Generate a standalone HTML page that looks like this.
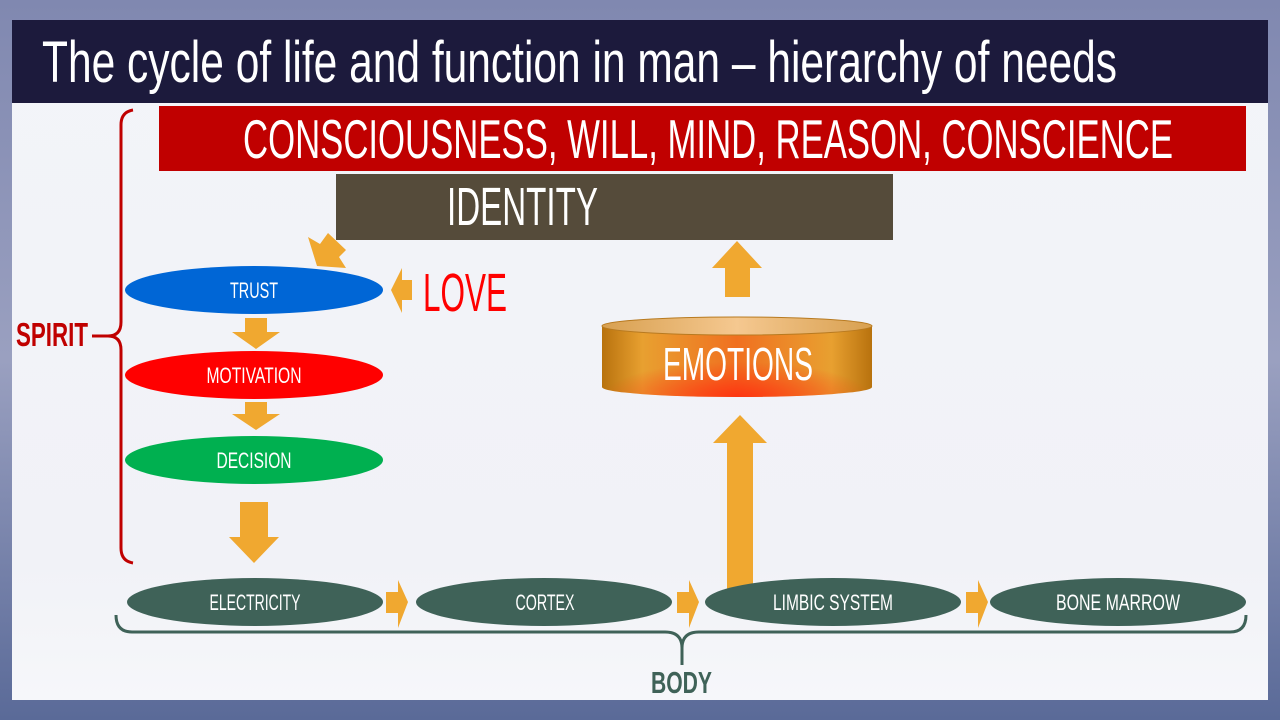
<!DOCTYPE html>
<html><head><meta charset="utf-8"><style>html,body{margin:0;padding:0;width:1280px;height:720px;overflow:hidden}</style></head>
<body>
<svg width="1280" height="720" viewBox="0 0 1280 720" xmlns="http://www.w3.org/2000/svg" font-family="Liberation Sans, sans-serif">
<defs>
<linearGradient id="bg" x1="0" y1="0" x2="0" y2="1"><stop offset="0" stop-color="#8088b0"/><stop offset="0.5" stop-color="#9aa0c0"/><stop offset="1" stop-color="#5a6a98"/></linearGradient>
<linearGradient id="panel" x1="0" y1="0" x2="0" y2="1"><stop offset="0" stop-color="#f3f4f9"/><stop offset="0.8" stop-color="#f1f2f7"/><stop offset="1" stop-color="#f6f7fa"/></linearGradient>
<linearGradient id="cyl" x1="0" y1="0" x2="1" y2="0"><stop offset="0" stop-color="#b8720e"/><stop offset="0.15" stop-color="#e8a030"/><stop offset="0.5" stop-color="#f07020"/><stop offset="0.85" stop-color="#e8a030"/><stop offset="1" stop-color="#b8720e"/></linearGradient>
<radialGradient id="hot" cx="0.5" cy="1" r="0.5"><stop offset="0" stop-color="#ff3010" stop-opacity="0.9"/><stop offset="1" stop-color="#ff3010" stop-opacity="0"/></radialGradient>
<linearGradient id="cyltop" x1="0" y1="0" x2="1" y2="0"><stop offset="0" stop-color="#d8a050"/><stop offset="0.5" stop-color="#f5c890"/><stop offset="1" stop-color="#d8a050"/></linearGradient>
</defs>
<rect width="1280" height="720" fill="url(#bg)"/>
<rect x="12" y="20" width="1256" height="680" fill="url(#panel)"/>
<rect x="12" y="20" width="1256" height="83" fill="#1c1a3c"/>
<text x="42" y="82" font-size="58" fill="#fff" textLength="1075" lengthAdjust="spacingAndGlyphs">The cycle of life and function in man – hierarchy of needs</text>

<rect x="159" y="106" width="1087" height="65" fill="#c00000"/>
<text x="243" y="158" font-size="55" fill="#fff" textLength="930" lengthAdjust="spacingAndGlyphs">CONSCIOUSNESS, WILL, MIND, REASON, CONSCIENCE</text>
<rect x="336" y="174" width="557" height="66" fill="#554b3a"/>
<text x="447" y="225" font-size="54" fill="#fff" textLength="151" lengthAdjust="spacingAndGlyphs">IDENTITY</text>

<path d="M133,110 Q121,112 121,125 L121,322 Q121,336 108,336 Q121,336 121,350 L121,548 Q121,561 133,563" fill="none" stroke="#c00000" stroke-width="3"/>
<line x1="92" y1="336" x2="108" y2="336" stroke="#c00000" stroke-width="3"/>
<text x="16" y="346" font-size="33" font-weight="bold" fill="#c00000" textLength="72" lengthAdjust="spacingAndGlyphs">SPIRIT</text>

<ellipse cx="254" cy="290" rx="129" ry="24" fill="#0066d6"/>
<text x="254" y="298" font-size="22" fill="#fff" text-anchor="middle" textLength="48" lengthAdjust="spacingAndGlyphs">TRUST</text>
<ellipse cx="254" cy="375" rx="129" ry="24" fill="#ff0000"/>
<text x="254" y="383" font-size="22" fill="#fff" text-anchor="middle" textLength="95" lengthAdjust="spacingAndGlyphs">MOTIVATION</text>
<ellipse cx="254" cy="460" rx="129" ry="24" fill="#00b050"/>
<text x="254" y="468" font-size="22" fill="#fff" text-anchor="middle" textLength="75" lengthAdjust="spacingAndGlyphs">DECISION</text>

<g fill="#f0a830">
<polygon points="317,266 308,237 320,244 328,233 346,250 339,257 346,268"/>
<polygon points="391,290 402,268 402,280 412,280 412,300 402,300 402,313"/>
<polygon points="245,318 267,318 267,332 280,332 256,349 232,332 245,332"/>
<polygon points="245,402 267,402 267,414 280,414 256,430 232,414 245,414"/>
<polygon points="240,502 268,502 268,537 279,537 254,563 229,537 240,537"/>
<polygon points="737,241 762,268 750,268 750,297 725,297 725,268 712,268"/>
<polygon points="740,415 767,443 753,443 753,590 727,590 727,443 713,443"/>
<polygon points="386,592 398,592 398,580 408,602 398,628 398,613 386,613"/>
<polygon points="677,592 689,592 689,580 699,602 689,628 689,613 677,613"/>
<polygon points="966,592 978,592 978,580 988,602 978,628 978,613 966,613"/>
</g>

<text x="423" y="311" font-size="54" fill="#ff0000" textLength="84" lengthAdjust="spacingAndGlyphs">LOVE</text>

<path d="M602,326 L602,387 A135,10 0 0 0 872,387 L872,326 Z" fill="url(#cyl)"/>
<path d="M602,326 L602,387 A135,10 0 0 0 872,387 L872,326 Z" fill="url(#hot)"/>
<ellipse cx="737" cy="326" rx="135" ry="9" fill="url(#cyltop)" stroke="#b87a20" stroke-width="1"/>
<text x="663" y="380" font-size="46" fill="#fff" textLength="150" lengthAdjust="spacingAndGlyphs">EMOTIONS</text>

<g fill="#3f6258">
<ellipse cx="255" cy="602" rx="128" ry="24"/>
<ellipse cx="544" cy="602" rx="128" ry="24"/>
<ellipse cx="833" cy="602" rx="128" ry="24"/>
<ellipse cx="1118" cy="602" rx="128" ry="24"/>
</g>
<g font-size="22" fill="#fff" text-anchor="middle">
<text x="255" y="610" textLength="91" lengthAdjust="spacingAndGlyphs">ELECTRICITY</text>
<text x="545" y="610" textLength="59" lengthAdjust="spacingAndGlyphs">CORTEX</text>
<text x="833" y="610" textLength="120" lengthAdjust="spacingAndGlyphs">LIMBIC SYSTEM</text>
<text x="1118" y="610" textLength="124" lengthAdjust="spacingAndGlyphs">BONE MARROW</text>
</g>
<path d="M116,615 Q116,632 132,632 L665,632 Q682,632 682,648 L682,665 M682,648 Q682,632 699,632 L1230,632 Q1246,632 1246,615" fill="none" stroke="#3f6258" stroke-width="3"/>
<text x="651" y="693" font-size="31" font-weight="bold" fill="#3f6258" textLength="61" lengthAdjust="spacingAndGlyphs">BODY</text>
</svg>
</body></html>
